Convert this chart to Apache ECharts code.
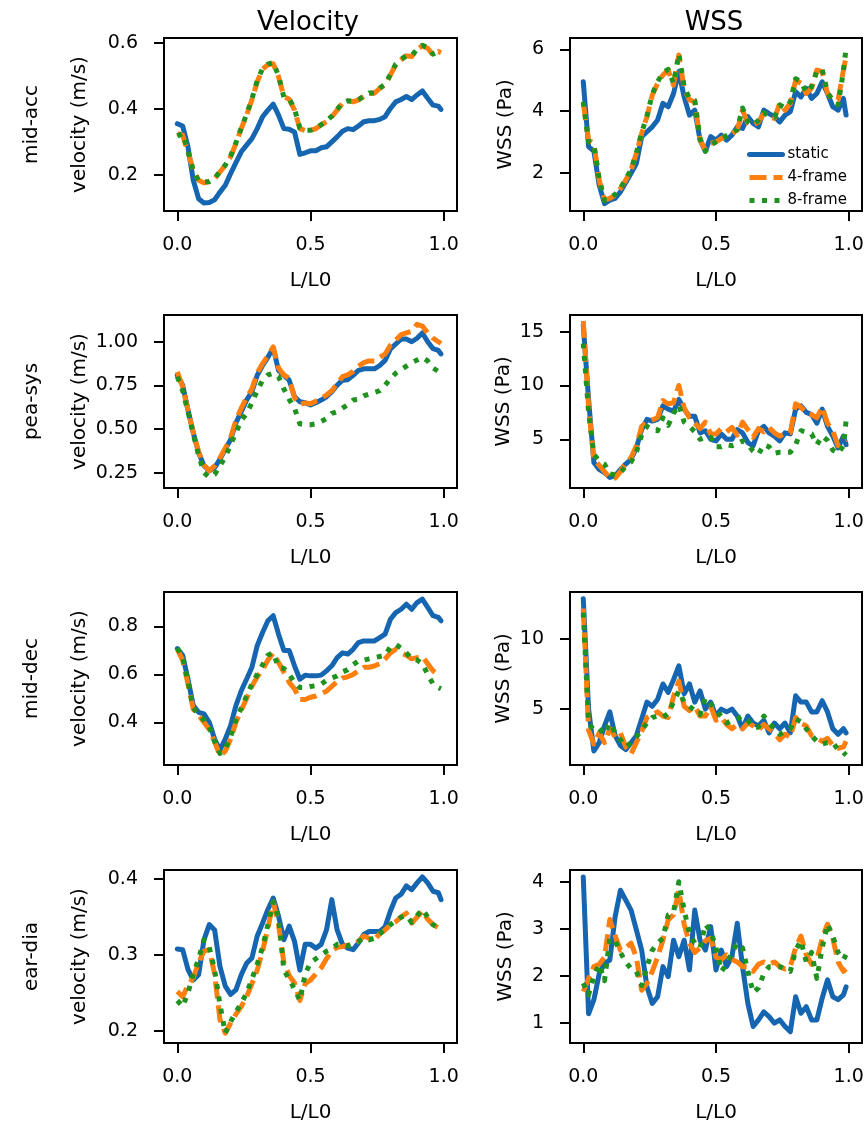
<!DOCTYPE html>
<html lang="en">
<head>
<meta charset="UTF-8">
<title>Velocity / WSS</title>
<style>
  html, body { margin: 0; padding: 0; background: #fff; }
  #main { width: 867px; height: 1125px; }
</style>
</head>
<body>
<div id="main"></div>
<script src="https://cdn.jsdelivr.net/npm/echarts@6/dist/echarts.min.js"></script>
<script>
// position along the vessel, L/L0
const L = [0, 0.02, 0.04, 0.06, 0.08, 0.1, 0.12, 0.14, 0.16, 0.18, 0.2, 0.22, 0.24, 0.26, 0.28, 0.3, 0.32, 0.34, 0.36, 0.38,
  0.4, 0.42, 0.44, 0.46, 0.48, 0.5, 0.52, 0.54, 0.56, 0.58, 0.6, 0.62, 0.64, 0.66, 0.68, 0.7, 0.72, 0.74, 0.76, 0.78,
  0.8, 0.82, 0.84, 0.86, 0.88, 0.9, 0.92, 0.94, 0.96, 0.98, 0.99];

const phases = ['mid-acc', 'pea-sys', 'mid-dec', 'ear-dia'];
const seriesNames = ['static', '4-frame', '8-frame'];
const xTicks = [0, 0.5, 1];

// mid-acc
const velAccStatic = [0.355,0.348,0.285,0.184,0.128,0.115,0.117,0.125,0.148,0.169,0.204,0.237,0.27,0.29,0.31,0.34,0.376,0.396,0.414,0.381,0.34,0.338,0.33,0.262,0.267,0.273,0.273,0.282,0.285,0.30,0.315,0.332,0.34,0.337,0.348,0.361,0.364,0.364,0.368,0.376,0.401,0.421,0.428,0.437,0.428,0.442,0.454,0.432,0.411,0.408,0.398];
const velAcc4 = [0.325,0.32,0.27,0.214,0.184,0.176,0.179,0.189,0.209,0.229,0.255,0.295,0.34,0.381,0.427,0.482,0.52,0.533,0.536,0.497,0.437,0.429,0.396,0.34,0.334,0.334,0.34,0.351,0.361,0.376,0.396,0.417,0.425,0.421,0.427,0.437,0.447,0.447,0.462,0.472,0.502,0.533,0.548,0.56,0.558,0.58,0.59,0.583,0.563,0.573,0.57];
const velAcc8 = [0.318,0.325,0.272,0.212,0.182,0.178,0.18,0.19,0.21,0.23,0.257,0.297,0.342,0.383,0.43,0.485,0.522,0.535,0.54,0.5,0.435,0.43,0.4,0.342,0.335,0.335,0.342,0.352,0.362,0.378,0.398,0.418,0.424,0.422,0.428,0.438,0.448,0.448,0.463,0.474,0.504,0.535,0.55,0.56,0.56,0.58,0.592,0.585,0.565,0.575,0.572];
const wssAccStatic = [4.95,2.85,2.7,1.6,1.0,1.11,1.17,1.38,1.68,1.98,2.3,3.17,3.33,3.49,3.71,4.25,4.14,4.57,5.28,4.46,3.87,4.03,3.06,2.7,3.17,3.06,3.22,3.06,3.22,3.49,3.44,3.82,3.6,3.49,4.03,3.92,3.82,3.65,3.87,3.98,4.63,4.46,4.74,4.41,4.57,4.95,4.57,4.14,4.03,4.41,3.87];
const wssAcc4 = [4.25,3.06,2.95,1.76,1.11,1.17,1.28,1.49,1.76,2.09,2.63,3.28,3.82,4.52,4.9,5.17,5.33,4.84,5.82,4.74,4.36,4.3,3.06,2.74,2.95,3.0,3.11,3.22,3.28,3.38,4.03,3.6,3.55,3.65,3.92,3.82,3.76,4.25,4.03,4.25,5.0,4.9,4.57,4.74,5.33,5.28,4.57,4.36,4.36,5.33,5.76];
const wssAcc8 = [4.3,3.0,2.9,1.8,1.1,1.2,1.3,1.5,1.8,2.1,2.65,3.3,3.85,4.55,4.95,5.25,5.35,4.9,5.85,4.8,4.4,4.35,3.1,2.7,2.9,3.0,3.1,3.2,3.3,3.4,4.1,3.65,3.55,3.7,3.95,3.85,3.8,4.2,4.1,4.3,5.05,4.95,4.6,4.8,5.3,5.35,4.6,4.35,4.2,5.3,6.05];

// pea-sys
const velPeaStatic = [0.808,0.751,0.61,0.478,0.365,0.29,0.261,0.28,0.327,0.384,0.44,0.535,0.6,0.666,0.714,0.808,0.864,0.911,0.964,0.836,0.808,0.78,0.685,0.657,0.651,0.638,0.651,0.666,0.685,0.714,0.751,0.78,0.783,0.808,0.836,0.845,0.845,0.845,0.864,0.893,0.959,0.987,1.015,1.015,1.0,1.02,1.05,1.0,0.96,0.95,0.93];
const velPea4 = [0.827,0.742,0.61,0.48,0.37,0.295,0.262,0.29,0.335,0.39,0.45,0.55,0.62,0.68,0.73,0.82,0.875,0.92,0.97,0.85,0.81,0.79,0.68,0.64,0.65,0.645,0.66,0.675,0.695,0.72,0.76,0.80,0.81,0.83,0.86,0.88,0.89,0.89,0.91,0.93,0.98,1.01,1.04,1.05,1.06,1.10,1.09,1.05,1.02,1.0,0.99];
const velPea8 = [0.80,0.72,0.60,0.47,0.35,0.25,0.225,0.24,0.29,0.34,0.41,0.48,0.55,0.59,0.65,0.72,0.78,0.81,0.82,0.80,0.73,0.67,0.62,0.53,0.525,0.525,0.53,0.544,0.56,0.59,0.60,0.62,0.64,0.666,0.67,0.69,0.70,0.71,0.72,0.75,0.79,0.82,0.84,0.86,0.88,0.895,0.91,0.89,0.85,0.83,0.82];
const wssPeaStatic = [15.6,8.7,2.85,2.2,1.9,1.46,1.6,2.2,2.7,3.15,4.2,5.9,6.85,6.7,6.85,8.1,7.8,7.6,8.7,7.8,7.15,7.15,5.6,5.8,5.0,4.85,5.5,5.0,5.0,5.9,5.6,4.7,4.4,5.8,6.2,5.6,5.3,4.85,5.6,5.5,7.8,8.1,7.5,7.3,6.5,7.8,6.2,5.3,4.2,5.3,4.5];
const wssPea4 = [16.0,8.0,3.1,2.6,2.0,1.4,1.4,2.0,2.8,3.3,4.4,6.2,6.6,6.8,7.0,8.6,8.3,8.4,10.0,7.9,7.0,6.5,6.0,6.6,5.5,5.5,6.0,5.7,6.1,5.4,6.6,5.9,5.2,6.0,5.7,6.1,5.6,5.3,5.5,5.6,8.3,8.0,7.4,7.3,7.0,8.0,6.5,5.8,4.4,4.9,5.0];
const wssPea8 = [13.9,7.5,3.6,3.0,2.7,1.8,1.7,1.9,2.5,2.9,3.8,5.4,6.2,5.9,5.8,7.0,6.3,7.4,8.2,6.6,6.2,5.7,5.0,5.2,5.2,4.3,4.3,4.5,4.4,4.6,4.85,4.5,3.9,3.6,4.5,4.3,3.7,3.8,3.8,3.8,4.5,5.8,5.7,5.5,4.5,5.3,4.9,4.0,3.7,4.4,6.7];

// mid-dec
const velDecStatic = [0.708,0.68,0.58,0.47,0.442,0.435,0.40,0.33,0.285,0.33,0.386,0.47,0.532,0.58,0.63,0.72,0.775,0.824,0.845,0.768,0.70,0.70,0.636,0.58,0.597,0.594,0.594,0.597,0.615,0.636,0.67,0.69,0.685,0.705,0.733,0.74,0.74,0.74,0.754,0.768,0.83,0.858,0.872,0.893,0.872,0.90,0.914,0.88,0.845,0.838,0.824];
const velDec4 = [0.705,0.66,0.56,0.455,0.43,0.40,0.37,0.32,0.26,0.28,0.33,0.40,0.45,0.50,0.55,0.59,0.62,0.66,0.69,0.65,0.61,0.567,0.54,0.495,0.495,0.505,0.51,0.52,0.53,0.55,0.57,0.585,0.59,0.60,0.615,0.63,0.63,0.635,0.645,0.665,0.69,0.705,0.69,0.68,0.665,0.67,0.675,0.645,0.615,0.60,0.60];
const velDec8 = [0.71,0.67,0.57,0.46,0.43,0.41,0.38,0.32,0.27,0.29,0.34,0.41,0.46,0.51,0.56,0.60,0.64,0.68,0.69,0.63,0.625,0.60,0.567,0.545,0.545,0.55,0.553,0.56,0.575,0.585,0.594,0.61,0.62,0.64,0.657,0.66,0.665,0.67,0.675,0.68,0.715,0.725,0.71,0.69,0.665,0.66,0.645,0.60,0.56,0.545,0.54];
const wssDecStatic = [12.9,5.0,2.0,2.6,3.8,4.8,3.1,2.4,2.1,2.6,3.1,4.3,5.5,5.2,5.7,6.8,6.2,7.1,8.1,6.1,6.8,5.5,6.3,5.0,5.5,4.5,5.0,4.8,5.0,4.5,3.6,4.5,4.0,3.8,4.2,3.3,4.0,3.6,4.0,3.3,5.95,5.5,5.5,4.8,4.8,5.6,4.8,3.6,3.2,3.6,3.3];
const wssDec4 = [12.2,3.5,2.5,3.3,2.6,3.6,3.0,3.3,2.3,1.8,2.6,3.4,4.4,4.6,4.8,4.5,4.4,5.9,7.0,5.2,4.9,5.2,4.5,4.5,5.2,4.2,4.4,3.9,3.6,3.9,3.6,4.0,3.8,3.5,3.9,3.6,3.3,2.8,3.2,3.0,4.4,4.0,3.8,3.1,2.9,2.7,2.9,2.4,2.2,2.3,2.7];
const wssDec8 = [11.9,4.0,3.5,3.6,3.2,4.0,3.3,2.8,2.3,2.6,3.0,3.5,4.0,4.4,4.5,4.4,4.7,5.5,6.3,5.5,5.2,4.9,4.6,5.8,5.4,4.9,4.5,4.0,4.2,4.3,4.5,4.2,3.7,3.7,4.5,4.0,3.6,3.2,3.4,3.6,4.3,4.1,3.6,3.1,2.7,2.5,2.6,2.6,2.1,1.9,1.7];

// ear-dia
const velEarStatic = [0.308,0.307,0.281,0.267,0.274,0.32,0.34,0.333,0.285,0.259,0.248,0.254,0.274,0.289,0.296,0.325,0.342,0.36,0.375,0.351,0.32,0.338,0.318,0.28,0.314,0.314,0.309,0.314,0.333,0.373,0.333,0.314,0.309,0.307,0.316,0.327,0.331,0.331,0.331,0.337,0.358,0.375,0.38,0.391,0.386,0.395,0.403,0.395,0.384,0.382,0.373];
const velEar4 = [0.252,0.245,0.26,0.27,0.29,0.305,0.307,0.275,0.215,0.197,0.21,0.222,0.232,0.245,0.262,0.28,0.305,0.335,0.37,0.34,0.29,0.273,0.263,0.24,0.262,0.267,0.275,0.283,0.295,0.305,0.31,0.311,0.313,0.314,0.318,0.325,0.322,0.32,0.328,0.333,0.34,0.344,0.35,0.355,0.342,0.35,0.358,0.347,0.34,0.336,0.334];
const velEar8 = [0.24,0.232,0.25,0.275,0.295,0.32,0.31,0.28,0.235,0.197,0.212,0.225,0.236,0.25,0.268,0.288,0.31,0.34,0.37,0.35,0.28,0.268,0.255,0.24,0.275,0.29,0.295,0.30,0.305,0.308,0.314,0.314,0.312,0.315,0.318,0.322,0.32,0.322,0.328,0.334,0.34,0.345,0.35,0.352,0.343,0.352,0.36,0.35,0.34,0.336,0.334];
const wssEarStatic = [4.1,1.2,1.5,2.05,2.27,2.34,3.26,3.82,3.61,3.4,2.98,2.55,1.77,1.42,1.56,2.2,1.99,2.76,2.41,2.76,2.13,3.4,2.76,2.55,3.05,2.13,2.55,2.2,2.41,3.12,2.2,1.42,0.93,1.07,1.24,1.14,1.0,1.07,0.93,0.82,1.56,1.21,1.35,1.07,1.07,1.53,1.92,1.56,1.5,1.6,1.77];
const wssEar4 = [1.67,1.95,2.2,2.25,2.4,3.2,2.85,2.55,2.6,2.7,2.4,1.7,1.85,2.1,2.4,2.76,3.19,3.3,3.82,3.1,2.7,2.5,2.6,2.75,2.8,2.4,2.35,2.45,2.35,2.3,2.2,2.2,2.1,2.25,2.3,2.25,2.3,2.2,2.15,2.2,2.6,2.85,2.45,2.25,2.35,2.8,3.1,2.8,2.3,2.1,2.15];
const wssEar8 = [1.85,1.6,2.0,2.25,1.9,2.8,2.75,2.5,2.3,2.15,2.1,1.8,2.2,2.55,2.7,2.8,3.3,3.35,4.0,3.4,2.9,2.7,2.6,3.1,2.95,2.6,2.1,2.25,2.5,2.7,2.6,2.1,1.65,1.75,2.05,2.2,2.2,2.2,2.15,2.1,2.55,2.75,2.3,2.5,1.95,2.6,3.1,2.85,2.5,2.35,2.45];

// y tick labels for each panel
const velAccTicks = [0.2, 0.4, 0.6];
const wssAccTicks = [2, 4, 6];
const velPeaTicks = [0.25, 0.5, 0.75, 1.0];
const wssPeaTicks = [5, 10, 15];
const velDecTicks = [0.4, 0.6, 0.8];
const wssDecTicks = [5, 10];
const velEarTicks = [0.2, 0.3, 0.4];
const wssEarTicks = [1, 2, 3, 4];

const panels = [
  { label: phases[0], vel: true, lines: [velAccStatic, velAcc4, velAcc8], ticks: velAccTicks, dec: 1, min: 0.091, max: 0.614 },
  { label: phases[0], vel: false, lines: [wssAccStatic, wssAcc4, wssAcc8], ticks: wssAccTicks, dec: 0, min: 0.76, max: 6.37 },
  { label: phases[1], vel: true, lines: [velPeaStatic, velPea4, velPea8], ticks: velPeaTicks, dec: 2, min: 0.163, max: 1.153 },
  { label: phases[1], vel: false, lines: [wssPeaStatic, wssPea4, wssPea8], ticks: wssPeaTicks, dec: 0, min: 0.48, max: 16.54 },
  { label: phases[2], vel: true, lines: [velDecStatic, velDec4, velDec8], ticks: velDecTicks, dec: 1, min: 0.222, max: 0.944 },
  { label: phases[2], vel: false, lines: [wssDecStatic, wssDec4, wssDec8], ticks: wssDecTicks, dec: 0, min: 1.0, max: 13.38 },
  { label: phases[3], vel: true, lines: [velEarStatic, velEar4, velEar8], ticks: velEarTicks, dec: 1, min: 0.184, max: 0.412 },
  { label: phases[3], vel: false, lines: [wssEarStatic, wssEar4, wssEar8], ticks: wssEarTicks, dec: 0, min: 0.58, max: 4.25 }
];

const FONT = 'DejaVu Sans';
const colors = ['#1565b0', '#ff7f0e', '#1f921f'];
const dashes = ['solid', [17, 7], [5, 7.5]];
const rowTops = [38, 315, 592, 870];

let grids = [], xAxes = [], yAxes = [], series = [];

panels.forEach(function (p, i) {
  let row = Math.floor(i / 2), col = i % 2;
  grids.push({
    left: col === 0 ? 164 : 570,
    top: rowTops[row],
    width: col === 0 ? 293 : 292,
    height: 173,
    show: true,
    borderColor: '#000',
    borderWidth: 2
  });
  xAxes.push({
    type: 'value', gridIndex: i, min: -0.05, max: 1.05,
    name: 'L/L0', nameLocation: 'middle', nameGap: 60,
    nameTextStyle: { fontFamily: FONT, fontSize: 20, color: '#000' },
    axisLine: { show: true, onZero: false, lineStyle: { color: '#000', width: 2 } },
    axisTick: { show: true, customValues: xTicks, length: 10, lineStyle: { color: '#000', width: 2 } },
    axisLabel: { customValues: xTicks, margin: 25, fontFamily: FONT, fontSize: 19, color: '#000',
      formatter: function (v) { return v.toFixed(1); } },
    splitLine: { show: false }
  });
  yAxes.push({
    type: 'value', gridIndex: i, min: p.min, max: p.max,
    name: p.vel ? p.label + '\n\nvelocity (m/s)' : 'WSS (Pa)',
    nameLocation: 'middle', nameGap: p.vel ? 72 : 52,
    nameTextStyle: { fontFamily: FONT, fontSize: 20, lineHeight: 24, color: '#000' },
    axisLine: { show: true, onZero: false, lineStyle: { color: '#000', width: 2 } },
    axisTick: { show: true, customValues: p.ticks, length: 10, lineStyle: { color: '#000', width: 2 } },
    axisLabel: { customValues: p.ticks, margin: 26, fontFamily: FONT, fontSize: 19, color: '#000',
      formatter: (function (d) { return function (v) { return v.toFixed(d); }; })(p.dec) },
    splitLine: { show: false }
  });
  p.lines.forEach(function (ys, k) {
    series.push({
      type: 'line', name: seriesNames[k], xAxisIndex: i, yAxisIndex: i,
      data: L.map(function (x, j) { return [x, ys[j]]; }),
      symbol: 'none', showSymbol: false, silent: true,
      lineStyle: { color: colors[k], width: 5, type: dashes[k], join: 'round', cap: k === 0 ? 'round' : 'butt' },
      itemStyle: { color: colors[k] },
      z: 2 + k
    });
  });
});

let myChart = echarts.init(document.getElementById('main'), null, { renderer: 'canvas' });
myChart.setOption({
  backgroundColor: '#fff',
  animation: false,
  color: colors,
  grid: grids,
  xAxis: xAxes,
  yAxis: yAxes,
  series: series,
  legend: {
    data: seriesNames,
    orient: 'vertical',
    left: 742, top: 142,
    itemWidth: 33, itemHeight: 12, itemGap: 8,
    itemStyle: { opacity: 0, borderWidth: 0 },
    lineStyle: { width: 5 },
    textStyle: { fontFamily: FONT, fontSize: 15, color: '#000' }
  },
  graphic: [
    { type: 'text', x: 308, y: 23, style: { text: 'Velocity', fontFamily: FONT, fontSize: 26, fill: '#000', textAlign: 'center', textVerticalAlign: 'middle' } },
    { type: 'text', x: 714, y: 23, style: { text: 'WSS', fontFamily: FONT, fontSize: 26, fill: '#000', textAlign: 'center', textVerticalAlign: 'middle' } }
  ]
});
</script>
</body>
</html>
